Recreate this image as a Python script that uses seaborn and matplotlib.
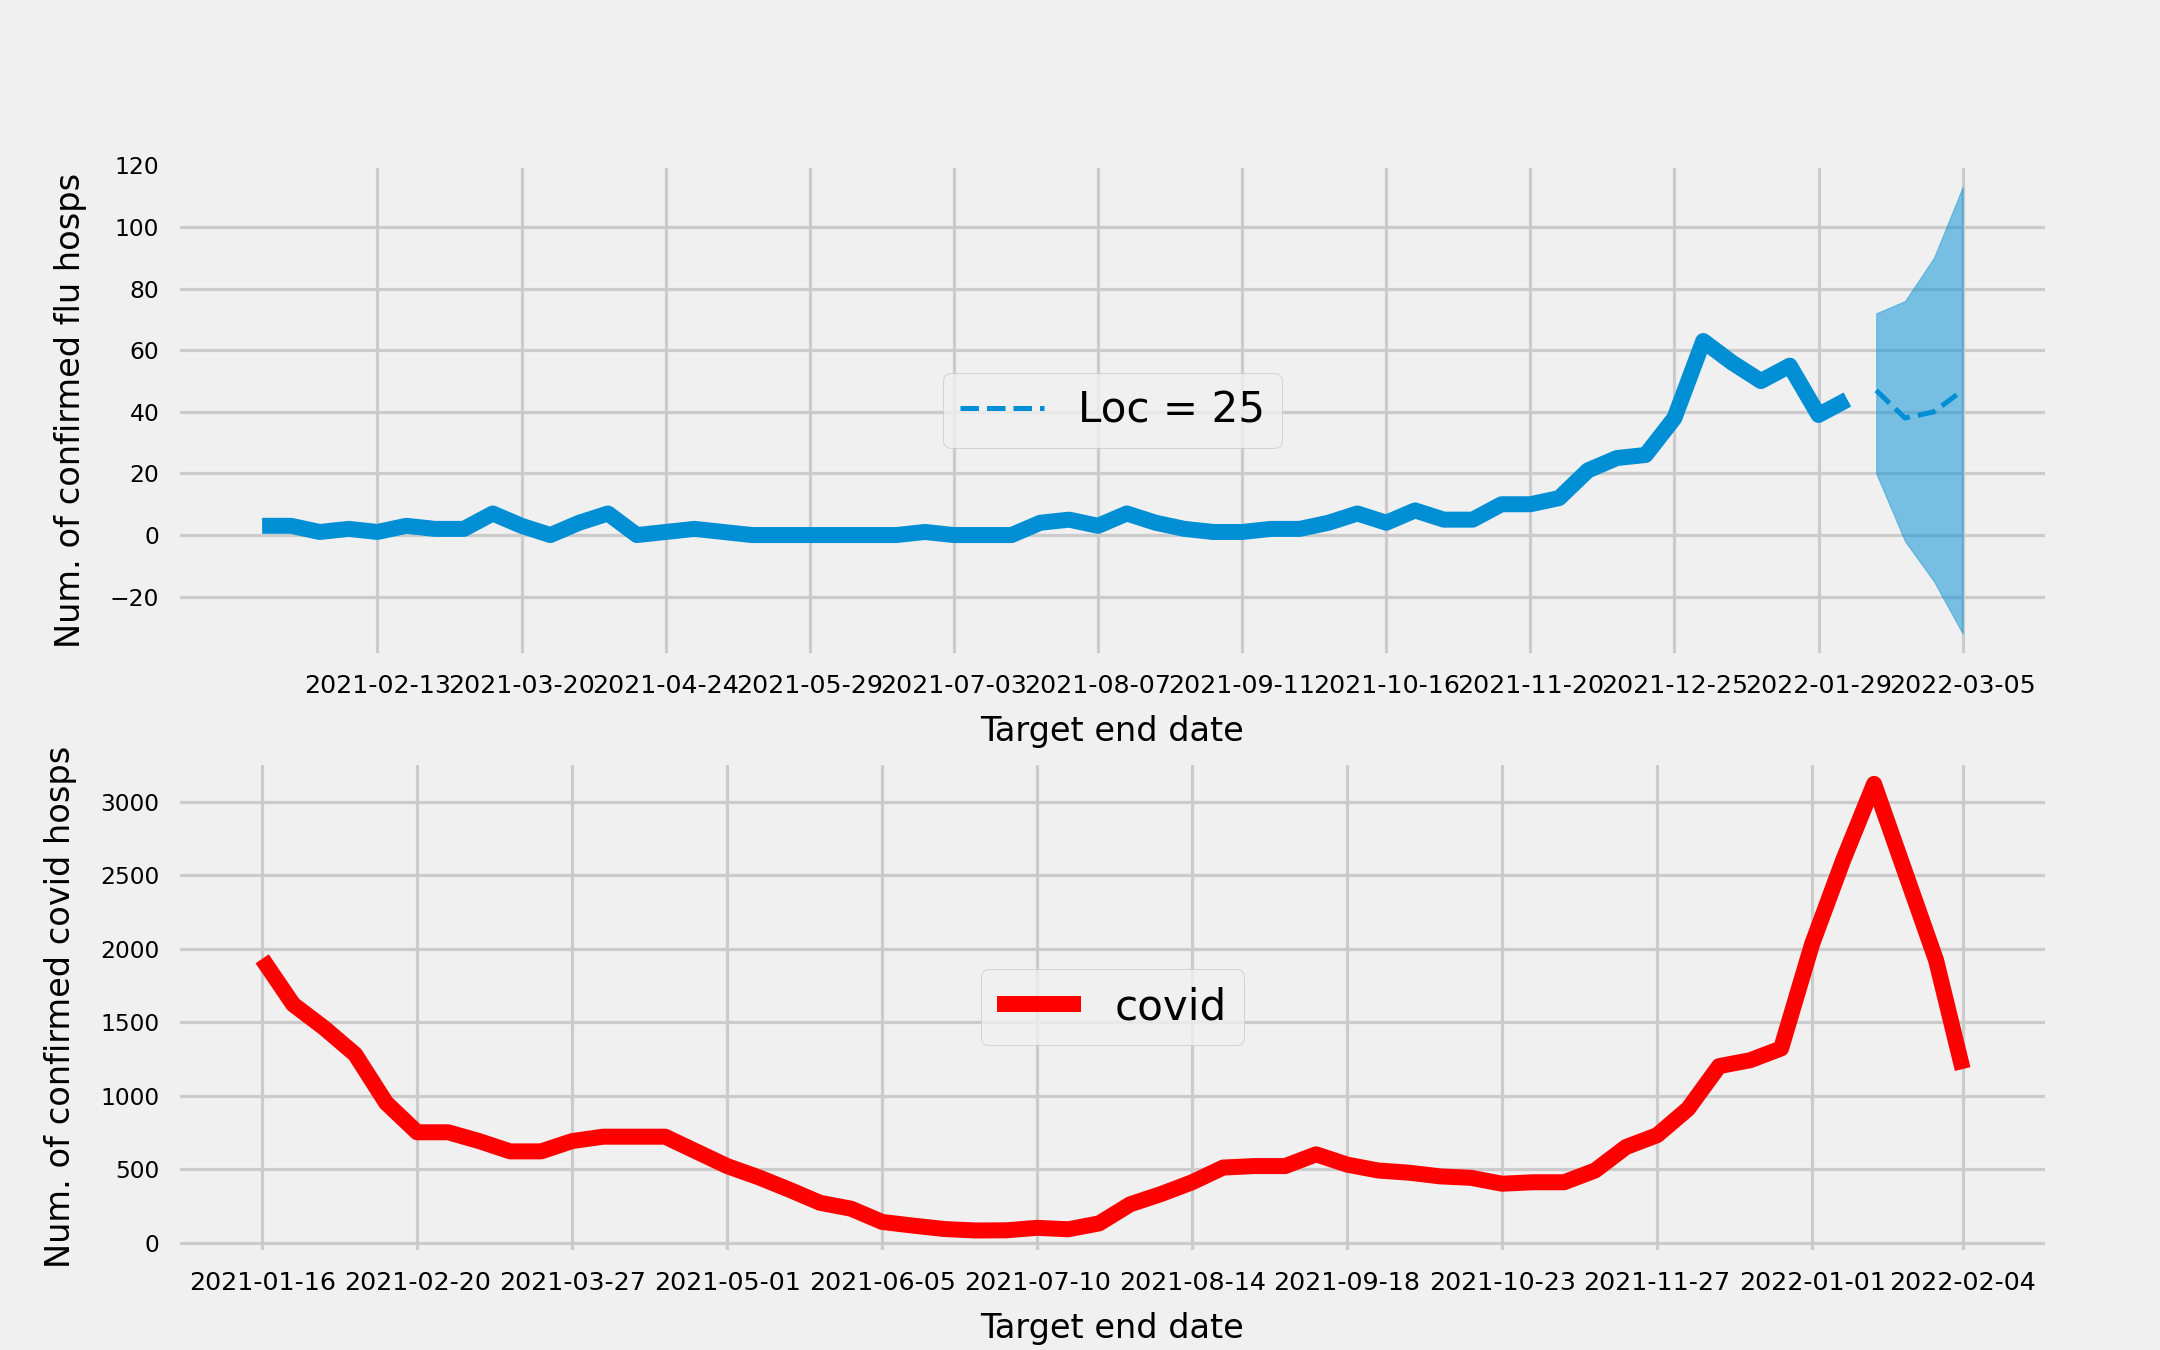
import matplotlib
matplotlib.use('Agg')
from matplotlib import pyplot as plt
import numpy as np
import pandas as pd
import seaborn as sns

# Weekly flu hospitalisations (observed) and the forecast that follows
flu_dates = pd.date_range('2021-01-16', '2022-02-05', freq='7D')
flu_hosps = [3, 3, 1, 2, 1, 3, 2, 2, 7, 3, 0, 4, 7, 0, 1, 2, 1, 0, 0, 0,
             0, 0, 0, 1, 0, 0, 0, 4, 5, 3, 7, 4, 2, 1, 1, 2, 2, 4, 7, 4,
             8, 5, 5, 10, 10, 12, 21, 25, 26, 38, 63, 56, 50, 55, 39, 44]
fc_dates = pd.to_datetime(['2022-02-12', '2022-02-19', '2022-02-26', '2022-03-05'])
fc_mid = [47, 38, 40, 47]
fc_lower = [20, -2, -15, -32]
fc_upper = [72, 76, 90, 113]
FC_LABEL = 'Loc = 25'

# Weekly covid hospitalisations
covid_dates = pd.to_datetime(list(pd.date_range('2021-01-16', '2022-01-29', freq='7D')) + ['2022-02-04'])
covid_hosps = [1930, 1620, 1460, 1280, 950, 750, 750, 690, 620, 620,
               690, 720, 720, 720, 620, 520, 445, 360, 270, 230,
               140, 115, 92, 82, 83, 100, 90, 130, 260, 330,
               410, 510, 520, 520, 600, 530, 490, 475, 450, 440,
               400, 410, 410, 490, 650, 730, 910, 1200, 1240, 1320,
               2030, 2600, 3120, 2520, 1920, 1180]

BLUE = '#008fd5'
XTICK_SIZE = 12.6
YTICK_SIZE = 11.7
LABEL_SIZE = 16.8
LEGEND_SIZE = 21

plt.style.use('fivethirtyeight')
plt.rcParams['grid.linewidth'] = 1.6

df_flu = pd.DataFrame({'date': flu_dates, 'hosps': flu_hosps})
df_fc = pd.DataFrame({'date': fc_dates, 'mid': fc_mid, 'lo': fc_lower, 'hi': fc_upper})
df_covid = pd.DataFrame({'date': covid_dates, 'hosps': covid_hosps})

fig, (ax1, ax2) = plt.subplots(2, 1, figsize=(15, 9.375), dpi=144)
fig.subplots_adjust(left=0.082, right=0.948, top=0.878, bottom=0.072, hspace=0.215)

# top panel: flu
sns.lineplot(data=df_flu, x='date', y='hosps', color=BLUE, linewidth=8, ax=ax1)
sns.lineplot(data=df_fc, x='date', y='mid', color=BLUE, linewidth=2.5,
             linestyle='--', label=FC_LABEL, ax=ax1)
ax1.fill_between(df_fc['date'], df_fc['lo'], df_fc['hi'], color=BLUE, alpha=0.5)
all_dates = list(flu_dates) + list(fc_dates)
top_ticks = all_dates[4::5]
ax1.set_xticks(top_ticks)
ax1.set_xticklabels([d.strftime('%Y-%m-%d') for d in top_ticks])
ax1.set_xlabel('Target end date', fontsize=LABEL_SIZE, labelpad=8.5)
ax1.set_ylabel('Num. of confirmed flu hosps', fontsize=LABEL_SIZE, labelpad=11.5)
ax1.legend(loc='center', fontsize=LEGEND_SIZE)

# bottom panel: covid
sns.lineplot(data=df_covid, x='date', y='hosps', color='red', linewidth=8,
             label='covid', ax=ax2)
bottom_ticks = list(covid_dates[::5])
ax2.set_xticks(bottom_ticks)
ax2.set_xticklabels([d.strftime('%Y-%m-%d') for d in bottom_ticks])
ax2.set_xlabel('Target end date', fontsize=LABEL_SIZE, labelpad=8.5)
ax2.set_ylabel('Num. of confirmed covid hosps', fontsize=LABEL_SIZE, labelpad=11.5)
ax2.legend(loc='center', fontsize=LEGEND_SIZE)

for ax in (ax1, ax2):
    ax.tick_params(axis='x', labelsize=XTICK_SIZE, pad=9)
    ax.tick_params(axis='y', labelsize=YTICK_SIZE, pad=9)

fig.savefig('out.png', dpi=144)
